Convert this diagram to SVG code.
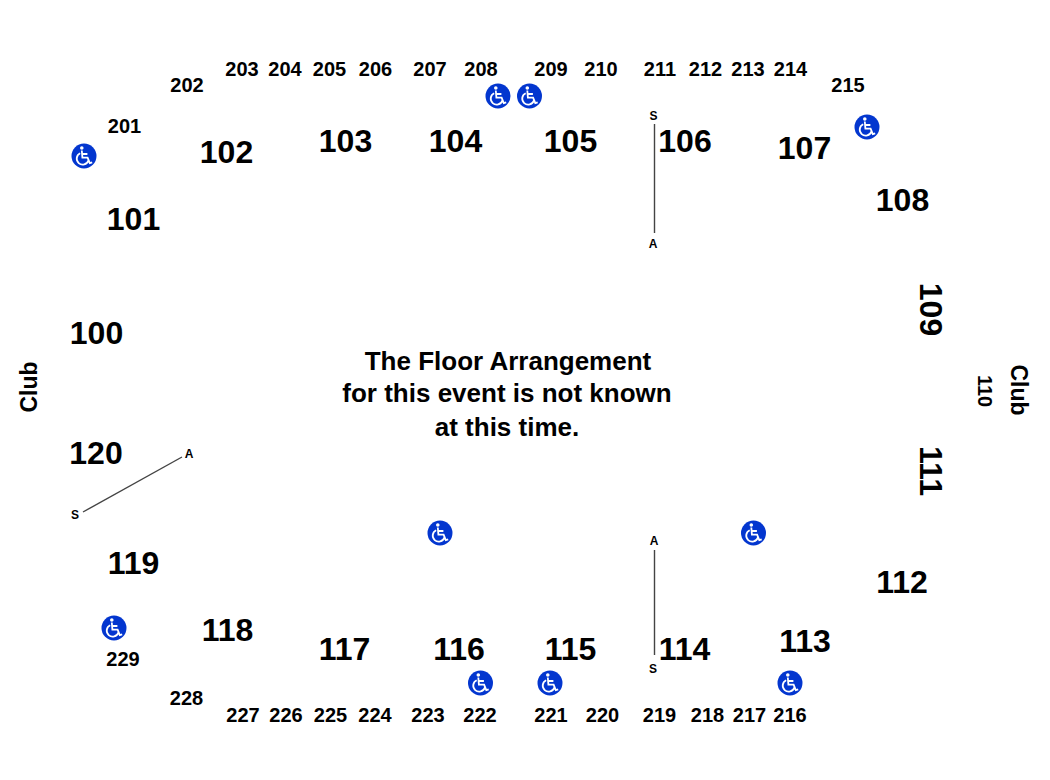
<svg xmlns="http://www.w3.org/2000/svg" width="1050" height="780" viewBox="0 0 1050 780">
<style>
text{font-family:"Liberation Sans",Arial,sans-serif;font-weight:700;fill:#000;text-anchor:middle}
.b{font-size:32px}.s{font-size:20px}.t{font-size:26px}.m{font-size:12px}.c{font-size:23px}
.l{stroke:#444;stroke-width:1.4;fill:none}
</style>
<defs>
<g id="wc">
<circle r="12.5" fill="#0336cf"/>
<circle cx="-2.2" cy="-8" r="1.8" fill="#fff"/>
<path d="M-2.200-5.500L-1.600 1.600H3.600L5.800 7.200 8.200 6.400M-2-2H3.400M-3.800-2.800A6 6 0 1 0 4.400 4.600" fill="none" stroke="#fff" stroke-width="1.800"/>
</g>
</defs>
<rect width="1050" height="780" fill="#fff"/>
<g id="connectors">
<path class="l" d="M654.500 124V233"/>
<path class="l" d="M654.500 550V655"/>
<path class="l" d="M83 512L182 457"/>
</g>
<g id="sections-100">
<text class="b" x="96.500" y="343.500">100</text>
<text class="b" x="133.500" y="229.500">101</text>
<text class="b" x="226.500" y="162.500">102</text>
<text class="b" x="345.500" y="151.500">103</text>
<text class="b" x="455.500" y="151.500">104</text>
<text class="b" x="570.500" y="151.500">105</text>
<text class="b" x="685" y="151.500">106</text>
<text class="b" x="804.500" y="158.500">107</text>
<text class="b" x="902.500" y="210.500">108</text>
<text class="b" transform="translate(919.500 309.500) rotate(90)">109</text>
<text class="b" transform="translate(919.500 471) rotate(90)">111</text>
<text class="b" x="902" y="592.500">112</text>
<text class="b" x="805" y="651.500">113</text>
<text class="b" x="684.500" y="659.500">114</text>
<text class="b" x="570.500" y="659.500">115</text>
<text class="b" x="459" y="659.500">116</text>
<text class="b" x="344.500" y="659.500">117</text>
<text class="b" x="227.500" y="640.500">118</text>
<text class="b" x="133.500" y="573.500">119</text>
<text class="b" x="96" y="463.500">120</text>
</g>
<g id="sections-200">
<text class="s" x="124.500" y="133">201</text>
<text class="s" x="187" y="91.500">202</text>
<text class="s" x="242" y="76">203</text>
<text class="s" x="285" y="76">204</text>
<text class="s" x="329.500" y="76">205</text>
<text class="s" x="375.500" y="76">206</text>
<text class="s" x="430" y="76">207</text>
<text class="s" x="481" y="76">208</text>
<text class="s" x="551" y="76">209</text>
<text class="s" x="601" y="76">210</text>
<text class="s" x="660" y="76">211</text>
<text class="s" x="705.500" y="76">212</text>
<text class="s" x="748" y="76">213</text>
<text class="s" x="790.500" y="76">214</text>
<text class="s" x="848" y="92">215</text>
<text class="s" x="790" y="721.500">216</text>
<text class="s" x="749.500" y="721.500">217</text>
<text class="s" x="707.500" y="721.500">218</text>
<text class="s" x="659.500" y="721.500">219</text>
<text class="s" x="602.500" y="721.500">220</text>
<text class="s" x="551" y="721.500">221</text>
<text class="s" x="480" y="721.500">222</text>
<text class="s" x="428" y="721.500">223</text>
<text class="s" x="375" y="721.500">224</text>
<text class="s" x="330.500" y="721.500">225</text>
<text class="s" x="286" y="721.500">226</text>
<text class="s" x="243" y="721.500">227</text>
<text class="s" x="186.500" y="705">228</text>
<text class="s" x="123" y="665.500">229</text>
<text class="s" transform="translate(978 391) rotate(90)">110</text>
<text class="c" transform="translate(37 387) rotate(-90)">Club</text>
<text class="c" transform="translate(1011 390) rotate(90)">Club</text>
</g>
<g id="message">
<text class="t" x="508" y="369.500">The Floor Arrangement</text>
<text class="t" x="507" y="401.500">for this event is not known</text>
<text class="t" x="507" y="435.500">at this time.</text>
</g>
<g id="aisle-labels">
<text class="m" x="653.500" y="120">S</text>
<text class="m" x="653" y="248">A</text>
<text class="m" x="654" y="545">A</text>
<text class="m" x="653" y="673">S</text>
<text class="m" x="189" y="457.500">A</text>
<text class="m" x="75" y="519">S</text>
</g>
<g id="accessible">
<use href="#wc" x="84" y="156"/>
<use href="#wc" x="498" y="96"/>
<use href="#wc" x="529.500" y="96"/>
<use href="#wc" x="867" y="127"/>
<use href="#wc" x="440" y="533"/>
<use href="#wc" x="753.500" y="533"/>
<use href="#wc" x="114" y="628"/>
<use href="#wc" x="480.500" y="683"/>
<use href="#wc" x="550" y="683"/>
<use href="#wc" x="790" y="683"/>
</g>
</svg>
